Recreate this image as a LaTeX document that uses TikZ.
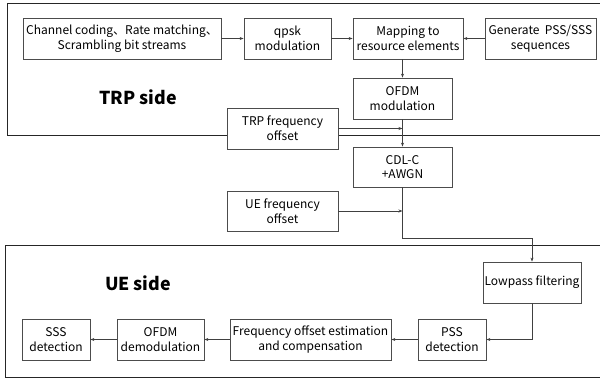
\documentclass[tikz,border=0pt]{standalone}
\usepackage{fontspec}
\setmainfont{Noto Sans CJK SC}
\usetikzlibrary{arrows.meta}
\begin{document}
\begin{tikzpicture}[x=1pt,y=-1pt,
  box/.style={draw=black!70,line width=0.8pt,fill=white,align=center,inner sep=1pt,
    font=\fontsize{12}{14.8}\selectfont},
  frame/.style={draw=black!85,line width=1pt},
  conn/.style={draw=black!75,line width=0.8pt,-{Stealth[length=4pt,width=3pt]}},
  side/.style={font=\fontsize{17.8}{21}\selectfont\bfseries}]
\useasboundingbox (0,0) rectangle (600,381);
\draw[frame] (7,3) rectangle (606,135);
\draw[frame] (5,245) rectangle (606,377);
\node[side] (trp) at (138,97) {TRP side};
\node[side] (ue) at (138,283) {UE side};
\node[box,minimum width=198pt,minimum height=41pt] (cc) at (122,38.5) {Channel coding、Rate matching、\\Scrambling bit streams};
\node[box,minimum width=87pt,minimum height=41pt] (qpsk) at (287.5,38.5) {qpsk\\modulation};
\node[box,minimum width=110pt,minimum height=41pt] (map) at (408,38.5) {Mapping to\\resource elements};
\node[box,minimum width=111pt,minimum height=41pt] (gen) at (540.5,38.5) {Generate\ \ PSS/SSS\\sequences};
\node[box,minimum width=99pt,minimum height=41pt] (ofdm) at (402.5,98.5) {OFDM\\modulation};
\node[box,minimum width=111pt,minimum height=41pt] (trpf) at (282.5,128.5) {TRP frequency\\offset};
\node[box,minimum width=99pt,minimum height=40pt] (cdl) at (402.5,167) {CDL-C\\+AWGN};
\node[box,minimum width=111pt,minimum height=40pt] (uef) at (282.5,211) {UE frequency\\offset};
\node[box,minimum width=98pt,minimum height=41pt] (lp) at (532,282.5) {Lowpass filtering};
\node[box,minimum width=68pt,minimum height=41pt] (pss) at (452,339.5) {PSS\\detection};
\node[box,minimum width=161pt,minimum height=41pt] (foe) at (310.5,339.5) {Frequency offset estimation\\and compensation};
\node[box,minimum width=87pt,minimum height=41pt] (ofdmd) at (160.5,339.5) {OFDM\\demodulation};
\node[box,minimum width=68pt,minimum height=41pt] (sss) at (56,339.5) {SSS\\detection};
\coordinate (bend) at (402.5,238);
\draw[conn] (cc.east) -- (qpsk.west);
\draw[conn] (qpsk.east) -- (map.west);
\draw[conn] (gen.west) -- (map.east);
\draw[conn] (ofdm.north |- map.south) -- (ofdm.north);
\draw[conn] (ofdm.south) -- (cdl.north);
\draw[conn] (trpf.east) -- (trpf.east -| ofdm.south);
\draw[conn] (uef.east) -- (uef.east -| cdl.south);
\draw[conn] (cdl.south) -- (bend) -| (lp.north);
\draw[conn] (lp.south) |- (pss.east);
\draw[conn] (pss.west) -- (foe.east);
\draw[conn] (foe.west) -- (ofdmd.east);
\draw[conn] (ofdmd.west) -- (sss.east);
\end{tikzpicture}
\end{document}
